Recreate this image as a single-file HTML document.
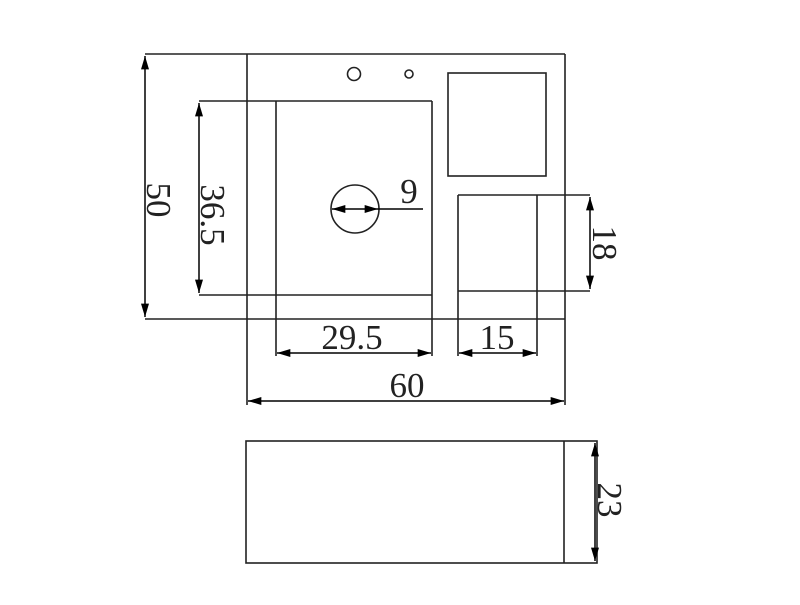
<!DOCTYPE html>
<html><head><style>html,body{margin:0;padding:0;background:#fff}</style></head>
<body>
<svg width="800" height="600" viewBox="0 0 800 600" xmlns="http://www.w3.org/2000/svg">
<defs>
<marker id="a" viewBox="0 0 10 6" refX="10" refY="3" markerWidth="16" markerHeight="8" markerUnits="userSpaceOnUse" orient="auto-start-reverse"><path d="M0,0 L10,3 L0,6 z" fill="#000"/></marker>
</defs>
<g stroke="#222" stroke-width="1.6" fill="none">
<line x1="145" y1="54" x2="565" y2="54"/>
<line x1="145" y1="319" x2="565" y2="319"/>
<line x1="565" y1="54" x2="565" y2="405"/>
<line x1="247" y1="54" x2="247" y2="405"/>
<line x1="199" y1="101" x2="432" y2="101"/>
<line x1="199" y1="295" x2="432" y2="295"/>
<line x1="432" y1="101" x2="432" y2="356"/>
<line x1="276" y1="101" x2="276" y2="356"/>
<circle cx="355" cy="209" r="24"/>
<circle cx="354" cy="74" r="6.5"/>
<circle cx="409" cy="74" r="4"/>
<rect x="448" y="73" width="98" height="103"/>
<line x1="458" y1="195" x2="590" y2="195"/>
<line x1="458" y1="291" x2="590" y2="291"/>
<line x1="458" y1="195" x2="458" y2="356"/>
<line x1="537" y1="195" x2="537" y2="356"/>
<rect x="246" y="441" width="351" height="122"/>
<line x1="564" y1="441" x2="564" y2="563"/>
</g>
<g stroke="#000" stroke-width="1.5" fill="none">
<line x1="145" y1="56" x2="145" y2="317" marker-start="url(#a)" marker-end="url(#a)"/>
<line x1="199" y1="103" x2="199" y2="293" marker-start="url(#a)" marker-end="url(#a)"/>
<line x1="332" y1="209" x2="378" y2="209" marker-start="url(#a)" marker-end="url(#a)"/>
<line x1="378" y1="209" x2="423" y2="209"/>
<line x1="590" y1="197" x2="590" y2="289" marker-start="url(#a)" marker-end="url(#a)"/>
<line x1="277" y1="353" x2="431" y2="353" marker-start="url(#a)" marker-end="url(#a)"/>
<line x1="459" y1="353" x2="536" y2="353" marker-start="url(#a)" marker-end="url(#a)"/>
<line x1="248" y1="401" x2="564" y2="401" marker-start="url(#a)" marker-end="url(#a)"/>
<line x1="595" y1="443" x2="595" y2="561" marker-start="url(#a)" marker-end="url(#a)"/>
</g>
<g font-family="Liberation Serif, serif" font-size="35" fill="#222" text-anchor="middle">
<text x="352" y="349">29.5</text>
<text x="497" y="349">15</text>
<text x="407" y="397">60</text>
<text x="409" y="203">9</text>
<text transform="translate(147,200) rotate(90)">50</text>
<text transform="translate(201,215) rotate(90)">36.5</text>
<text transform="translate(593,243) rotate(90)">18</text>
<text transform="translate(598,500) rotate(90)">23</text>
</g>
</svg>
</body></html>
